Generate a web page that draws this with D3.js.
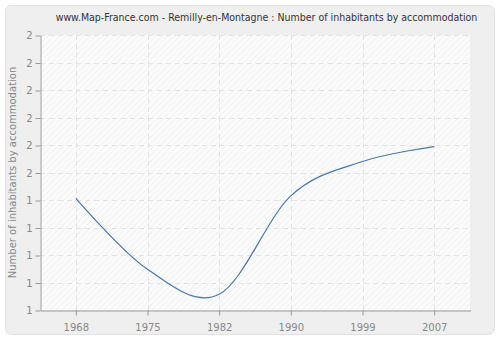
<!DOCTYPE html>
<html>
<head>
<meta charset="utf-8">
<script src="https://cdn.jsdelivr.net/npm/d3@7"></script>
<style>
  body { margin: 0; background: #fff; }
  svg { display: block; font-family: "DejaVu Sans", sans-serif; }
</style>
</head>
<body>
<div id="chart"></div>
<script>
const WIDTH = 500;
const HEIGHT = 340;
const MARGINS = {left: 40, right: 30, top: 35, bottom: 30};

const years = ["1968", "1975", "1982", "1990", "1999", "2007"];
const values = [1.406, 1.148, 1.057, 1.415, 1.54, 1.594];
const yTicks = [1, 1.1, 1.2, 1.3, 1.4, 1.5, 1.6, 1.7, 1.8, 1.9, 2];

const svg = d3.select("#chart")
  .append("svg")
    .attr("width", WIDTH)
    .attr("height", HEIGHT);

// hatch pattern for plot background
const defs = svg.append("defs");
const pat = defs.append("pattern")
    .attr("id", "hatch")
    .attr("patternUnits", "userSpaceOnUse")
    .attr("width", 6)
    .attr("height", 6);
pat.append("rect").attr("width", 6).attr("height", 6).attr("fill", "#fbfbfb");
pat.append("path")
    .attr("d", "M-1,7 L7,-1 M-1,1 L1,-1 M5,7 L7,5")
    .attr("stroke", "#ececec")
    .attr("stroke-width", 0.8);

// outer panel
svg.append("rect")
    .attr("x", 5.5).attr("y", 5.5)
    .attr("width", WIDTH - 11).attr("height", HEIGHT - 11)
    .attr("rx", 6)
    .attr("fill", "#efefef")
    .attr("stroke", "#e2e2e2");

const x0 = MARGINS.left, x1 = WIDTH - MARGINS.right;
const y0 = HEIGHT - MARGINS.bottom, y1 = MARGINS.top;

const x = d3.scaleBand().domain(years).range([x0, x1]);
const y = d3.scaleLinear().domain([1, 2]).range([y0, y1]);

svg.append("rect")
    .attr("x", x0).attr("y", y1)
    .attr("width", x1 - x0).attr("height", y0 - y1)
    .attr("fill", "url(#hatch)");

// grid
svg.append("g")
  .selectAll("line")
  .data(yTicks.slice(1))
  .join("line")
    .attr("x1", x0).attr("x2", x1)
    .attr("y1", d => Math.round(y(d)) + 0.5)
    .attr("y2", d => Math.round(y(d)) + 0.5)
    .attr("stroke", "#e3e3e3")
    .attr("stroke-dasharray", "5,4");

svg.append("g")
  .selectAll("line")
  .data(years)
  .join("line")
    .attr("x1", d => Math.round(x(d) + x.bandwidth() / 2) + 0.5)
    .attr("x2", d => Math.round(x(d) + x.bandwidth() / 2) + 0.5)
    .attr("y1", y1).attr("y2", y0)
    .attr("stroke", "#e3e3e3")
    .attr("stroke-dasharray", "5,4");

// axes
const yAxis = svg.append("g")
    .attr("transform", `translate(${x0 + 0.5},0.5)`)
    .call(d3.axisLeft(y).tickValues(yTicks).tickFormat(d3.format(".0f")).tickSize(5).tickSizeOuter(0));

const xAxis = svg.append("g")
    .attr("transform", `translate(0.5,${y0 + 0.5})`)
    .call(d3.axisBottom(x).tickSize(5).tickSizeOuter(0));

[yAxis, xAxis].forEach(a => {
  a.select(".domain").attr("stroke", "#999");
  a.selectAll(".tick line").attr("stroke", "#999");
  a.selectAll(".tick text")
    .attr("fill", "#888")
    .attr("font-size", 10)
    .attr("font-family", "DejaVu Sans, sans-serif");
});
xAxis.selectAll(".tick text").attr("dy", "1.25em");

// line
const line = d3.line()
    .x((d, i) => x(years[i]) + x.bandwidth() / 2)
    .y(d => y(d))
    .curve(d3.curveCardinal.tension(0));

svg.append("path")
    .datum(values)
    .attr("fill", "none")
    .attr("stroke", "#4a78aa")
    .attr("stroke-width", 1.2)
    .attr("d", line);

// title
svg.append("text")
    .attr("x", 266.5).attr("y", 21)
    .attr("text-anchor", "middle")
    .attr("font-size", 10.5)
    .attr("font-family", "'DejaVu Sans Condensed', 'DejaVu Sans', sans-serif")
    .attr("fill", "#333")
    .text("www.Map-France.com - Remilly-en-Montagne : Number of inhabitants by accommodation");

svg.append("text")
    .attr("transform", `translate(16,${(y0 + y1) / 2}) rotate(-90)`)
    .attr("text-anchor", "middle")
    .attr("font-size", 10)
    .attr("fill", "#888")
    .text("Number of inhabitants by accommodation");
</script>
</body>
</html>
